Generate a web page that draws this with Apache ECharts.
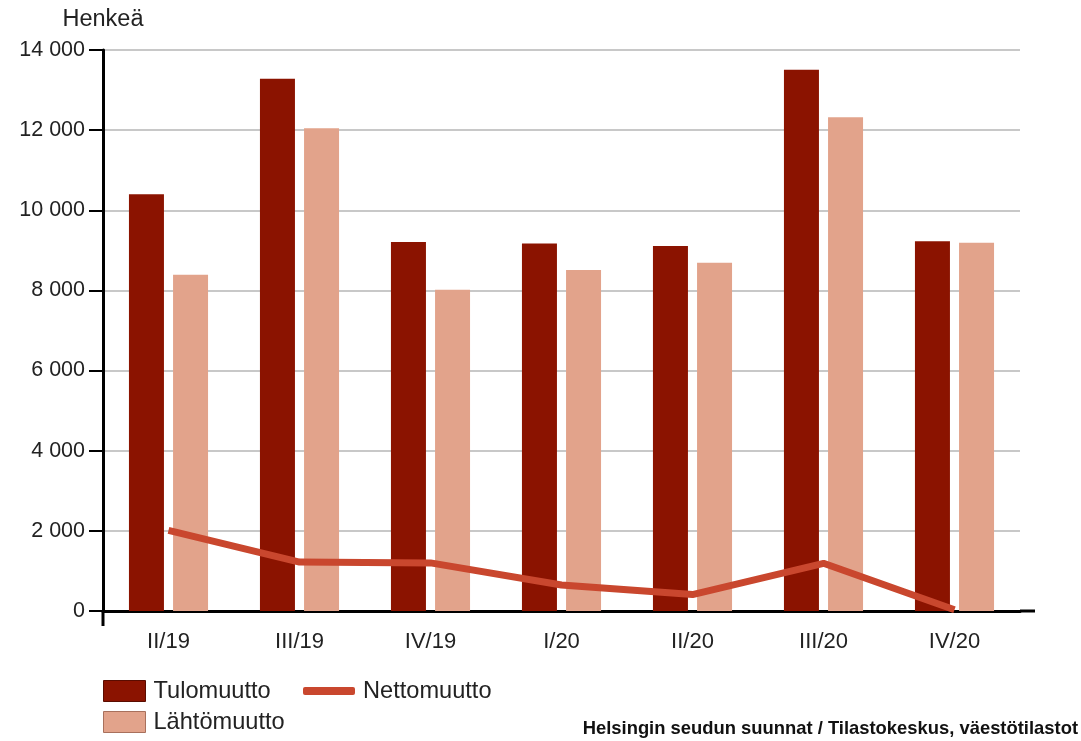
<!DOCTYPE html>
<html>
<head>
<meta charset="utf-8">
<script src="https://cdn.jsdelivr.net/npm/echarts@6/dist/echarts.min.js"></script>
<style>
  html, body { margin: 0; padding: 0; background: #fff; }
  #chart { width: 1081px; height: 741px; }
</style>
</head>
<body>
<div id="chart"></div>
<script>
// Quarterly migration, Helsinki region (persons)
const quarters = ['II/19', 'III/19', 'IV/19', 'I/20', 'II/20', 'III/20', 'IV/20'];
const tulomuutto = [10400, 13280, 9210, 9170, 9110, 13510, 9230];
const lahtomuutto = [8390, 12050, 8020, 8510, 8690, 12320, 9190];
const nettomuutto = [2010, 1220, 1200, 650, 410, 1190, 30];
const yTicks = [0, 2000, 4000, 6000, 8000, 10000, 12000, 14000];

const FONT = '"Liberation Sans", Arial, sans-serif';
const TEXT = '#222';
const GRID = { left: 103, right: 61, top: 50, bottom: 130 };
const W = 1081, H = 741;

const fmt = v => String(v).replace(/\B(?=(\d{3})+(?!\d))/g, ' ');

const chart = echarts.init(document.getElementById('chart'), null, { renderer: 'canvas' });

const axisBottom = H - GRID.bottom;
const axisRight = W - GRID.right;

// one legend block per entry so each can sit where it belongs
function legendItem(name, left, top, w, h, icon, itemStyle) {
  return {
    left: left,
    top: top,
    padding: 0,
    itemWidth: w,
    itemHeight: h,
    selectedMode: false,
    textStyle: { fontFamily: FONT, fontSize: 23.6, color: TEXT, padding: [0, 0, 0, 3] },
    data: [Object.assign({ name: name, icon: icon }, itemStyle ? { itemStyle: itemStyle } : {})]
  };
}

chart.setOption({
  animation: false,
  backgroundColor: '#fff',
  textStyle: { fontFamily: FONT },
  grid: { left: GRID.left, right: GRID.right, top: GRID.top, bottom: GRID.bottom, containLabel: false },
  legend: [
    legendItem('Tulomuutto', 103, 679, 42, 21, 'rect', { borderColor: '#5a0c00', borderWidth: 1 }),
    legendItem('Lähtömuutto', 103, 710, 42, 21, 'rect', { borderColor: '#a8705c', borderWidth: 1 }),
    legendItem('Nettomuutto', 303, 679, 52, 8, 'roundRect')
  ],
  xAxis: {
    type: 'category',
    data: quarters,
    boundaryGap: true,
    axisLine: { lineStyle: { color: '#000', width: 3 } },
    axisTick: { alignWithLabel: true, length: 14, lineStyle: { color: '#000', width: 2 } },
    axisLabel: { fontFamily: FONT, fontSize: 22, color: TEXT, margin: 20 },
    splitLine: { show: false }
  },
  yAxis: {
    type: 'value',
    min: 0,
    max: yTicks[yTicks.length - 1],
    interval: yTicks[1] - yTicks[0],
    name: 'Henkeä',
    nameLocation: 'end',
    nameGap: 18,
    nameTextStyle: { fontFamily: FONT, fontSize: 23.5, color: TEXT, align: 'center' },
    axisLine: { show: true, lineStyle: { color: '#000', width: 3 } },
    axisTick: { show: true, length: 14, lineStyle: { color: '#000', width: 2 } },
    axisLabel: { fontFamily: FONT, fontSize: 21.5, color: TEXT, margin: 18, formatter: fmt },
    splitLine: { lineStyle: { color: '#c8c8c8', width: 2 } }
  },
  series: [
    {
      name: 'Tulomuutto',
      type: 'bar',
      data: tulomuutto,
      barWidth: 35,
      barGap: '26%',
      itemStyle: { color: '#8b1300' }
    },
    {
      name: 'Lähtömuutto',
      type: 'bar',
      data: lahtomuutto,
      barWidth: 35,
      barGap: '26%',
      itemStyle: { color: '#e2a38b' }
    },
    {
      name: 'Nettomuutto',
      type: 'line',
      data: nettomuutto,
      symbol: 'none',
      z: 5,
      lineStyle: { color: '#c9472e', width: 7 },
      itemStyle: { color: '#c9472e' }
    }
  ],
  graphic: [
    // axis line runs a bit past the plot area on the right
    { type: 'line', shape: { x1: axisRight, y1: axisBottom, x2: axisRight + 15, y2: axisBottom },
      style: { stroke: '#000', lineWidth: 3 }, z: 10 },
    // y axis continues below the x axis
    { type: 'line', shape: { x1: GRID.left, y1: axisBottom, x2: GRID.left, y2: axisBottom + 15 },
      style: { stroke: '#000', lineWidth: 3 }, z: 10 },
    {
      type: 'text',
      right: 3,
      bottom: 3,
      style: {
        text: 'Helsingin seudun suunnat / Tilastokeskus, väestötilastot',
        fontFamily: FONT,
        fontWeight: 'bold',
        fontSize: 18.4,
        fill: '#111'
      }
    }
  ]
});
</script>
</body>
</html>
